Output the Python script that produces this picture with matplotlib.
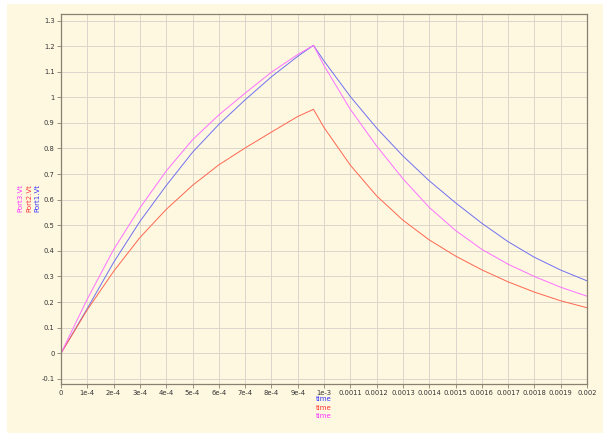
import matplotlib
matplotlib.use("Agg")
import matplotlib.pyplot as plt
from matplotlib.patches import Rectangle

# Data
time = [0, 1e-4, 2e-4, 3e-4, 4e-4, 5e-4, 6e-4, 7e-4, 8e-4, 9e-4, 9.6e-4,
        1e-3, 1.1e-3, 1.2e-3, 1.3e-3, 1.4e-3, 1.5e-3, 1.6e-3, 1.7e-3, 1.8e-3, 1.9e-3, 2e-3]
port1_vt = [0, 0.175, 0.355, 0.515, 0.655, 0.785, 0.894, 0.99, 1.080, 1.160, 1.203,
            1.142, 1.003, 0.880, 0.771, 0.674, 0.588, 0.508, 0.436, 0.375, 0.325, 0.283]
port2_vt = [0, 0.170, 0.320, 0.452, 0.562, 0.656, 0.736, 0.802, 0.864, 0.925, 0.953,
            0.882, 0.735, 0.615, 0.520, 0.443, 0.380, 0.326, 0.279, 0.239, 0.205, 0.178]
port3_vt = [0, 0.212, 0.405, 0.568, 0.712, 0.834, 0.931, 1.016, 1.098, 1.167, 1.203,
            1.124, 0.953, 0.810, 0.682, 0.570, 0.480, 0.406, 0.348, 0.300, 0.258, 0.223]

xticks = [0, 1e-4, 2e-4, 3e-4, 4e-4, 5e-4, 6e-4, 7e-4, 8e-4, 9e-4, 1e-3,
          1.1e-3, 1.2e-3, 1.3e-3, 1.4e-3, 1.5e-3, 1.6e-3, 1.7e-3, 1.8e-3, 1.9e-3, 2e-3]
xticklabels = ["0", "1e-4", "2e-4", "3e-4", "4e-4", "5e-4", "6e-4", "7e-4", "8e-4", "9e-4", "1e-3",
               "0.0011", "0.0012", "0.0013", "0.0014", "0.0015", "0.0016", "0.0017", "0.0018", "0.0019", "0.002"]
yticks = [-0.1, 0, 0.1, 0.2, 0.3, 0.4, 0.5, 0.6, 0.7, 0.8, 0.9, 1.0, 1.1, 1.2, 1.3]
yticklabels = ["-0.1", "0", "0.1", "0.2", "0.3", "0.4", "0.5", "0.6", "0.7", "0.8", "0.9", "1", "1.1", "1.2", "1.3"]

cream = "#fef8e1"
spine_c = "#8a8070"
grid_c = "#ddd5cc"

fig = plt.figure(figsize=(6.03, 4.33), dpi=100, facecolor="white")
fig.patches.append(Rectangle((7 / 603, 0), 1 - 7 / 603, 1 - 4 / 433, transform=fig.transFigure,
                             facecolor=cream, edgecolor="none", zorder=-10))

ax = fig.add_axes([61 / 603, 1 - 384 / 433, 526 / 603, 370 / 433])
ax.set_facecolor(cream)

ax.plot(time, port1_vt, color="#7070f0", lw=0.7)
ax.plot(time, port2_vt, color="#ff6650", lw=0.7)
ax.plot(time, port3_vt, color="#ff70ff", lw=0.7)

ax.set_xlim(0, 2e-3)
ax.set_ylim(-0.12, 1.3254)
ax.set_xticks(xticks)
ax.set_xticklabels(xticklabels)
ax.set_yticks(yticks)
ax.set_yticklabels(yticklabels)
ax.tick_params(axis="both", labelsize=4.9, length=3, width=0.6, color=spine_c,
               labelcolor="#333333", pad=1.5)
ax.grid(True, color=grid_c, lw=0.7)
ax.set_axisbelow(True)
for s in ax.spines.values():
    s.set_color(spine_c)
    s.set_linewidth(0.9)

# Y labels (rotated, side by side)
fig.text(20.7 / 603, 1 - 198 / 433, "Port3.Vt", rotation=90, color="#ff33ff",
         fontsize=5, ha="center", va="center")
fig.text(29 / 603, 1 - 198 / 433, "Port2.Vt", rotation=90, color="#ff3333",
         fontsize=5, ha="center", va="center")
fig.text(37.5 / 603, 1 - 198 / 433, "Port1.Vt", rotation=90, color="#3333ff",
         fontsize=5, ha="center", va="center")

# X labels (stacked)
fig.text(324 / 603, 1 - 399 / 433, "time", color="#3333ff", fontsize=5, ha="center", va="center")
fig.text(324 / 603, 1 - 407.5 / 433, "time", color="#ff3333", fontsize=5, ha="center", va="center")
fig.text(324 / 603, 1 - 416 / 433, "time", color="#ff33ff", fontsize=5, ha="center", va="center")

fig.savefig("out.png", dpi=100, facecolor="white")
